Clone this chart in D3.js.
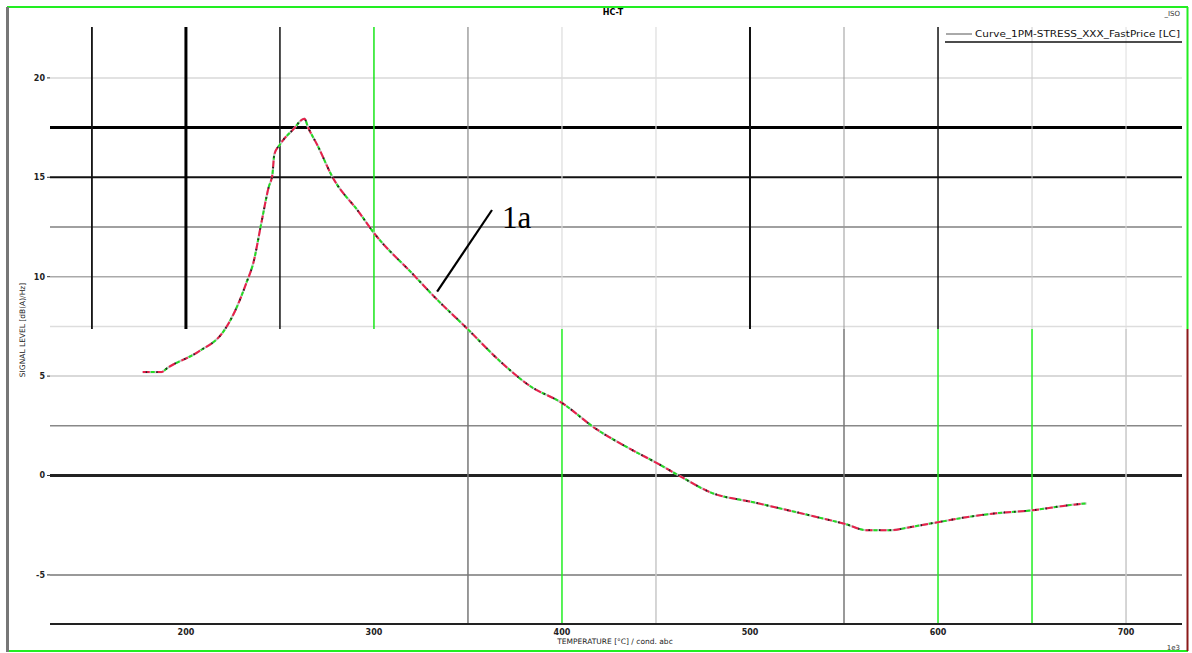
<!DOCTYPE html>
<html>
<head>
<meta charset="utf-8">
<script src="https://cdn.jsdelivr.net/npm/d3@7"></script>
<style>
  body { margin: 0; background: #fff; }
  svg { display: block; font-family: "DejaVu Sans", sans-serif; }
</style>
</head>
<body>
<svg id="chart"></svg>
<script>
// curve
const curveX = [177, 187, 190, 207, 220, 226, 232, 236, 240, 244, 246, 247, 250, 257, 263, 265, 270, 278, 292, 300, 321, 332, 350, 367, 383, 400, 418, 436, 450, 464, 479, 502, 536, 551, 562, 575, 585, 600, 615, 631, 650, 669, 679];
const curveY = [5.2, 5.2, 5.4, 6.25, 7.25, 8.25, 9.65, 10.75, 12.65, 14.5, 15.15, 16.15, 16.65, 17.4, 17.95, 17.5, 16.6, 15.0, 13.25, 12.2, 10.1, 9.0, 7.35, 5.75, 4.5, 3.65, 2.35, 1.35, 0.65, -0.1, -0.85, -1.35, -2.1, -2.45, -2.75, -2.75, -2.6, -2.35, -2.1, -1.9, -1.75, -1.5, -1.4];

const xTicks = [200, 300, 400, 500, 600, 700];
const xTickLabels = ['200', '300', '400', '500', '600', '700'];
const yTicks = [20, 15, 10, 5, 0, -5];
const yTickLabels = ['20', '15', '10', '5', '0', '-5'];
const xGrid = [150, 200, 250, 300, 350, 400, 450, 500, 550, 600, 650, 700];
const yGrid = [20, 17.5, 15, 12.5, 10, 7.5, 5, 2.5, 0, -5];

const title = 'HC-T';
const legendLabel = 'Curve_1PM-STRESS_XXX_FastPrice [LC]';
const xTitle = 'TEMPERATURE [°C] / cond. abc';
const yTitle = 'SIGNAL LEVEL [dB(A)/Hz]';
const annotation = '1a';

const W = 1192, H = 653;
const pL = 50, pR = 1183, pT = 27, pB = 624;
const seam = 329;

const svg = d3.select('#chart').attr('width', W).attr('height', H);

const x = d3.scaleLinear().domain([127.7, 730.3]).range([pL, pR]);
const y = d3.scaleLinear().domain([-7.47, 22.56]).range([pB, pT]);

// gridline looks: [top colour, top width, bottom colour, bottom width]
const vStyle = {
  150: ['#111', 1.8, null, 0], 200: ['#000', 3, null, 0], 250: ['#111', 1.5, null, 0],
  300: ['#19e619', 1.5, null, 0], 350: ['#888', 1.2, '#777', 1.5], 400: ['#ddd', 1.2, '#22ee22', 1.5],
  450: ['#ddd', 1.2, '#c8c8c8', 1.5], 500: ['#111', 2, null, 0], 550: ['#999', 1, '#777', 1.5],
  600: ['#111', 1.5, '#22ee22', 1.5], 650: ['#ccc', 1, '#22ee22', 1.5], 700: ['#ddd', 1, '#c8c8c8', 1.5]
};
const hStyle = {
  20: ['#d8d8d8', 1.5], 17.5: ['#000', 3], 15: ['#111', 2], 12.5: ['#808080', 1.5], 10: ['#aaa', 1.5],
  7.5: ['#ddd', 1.5], 5: ['#ccc', 1.5], 2.5: ['#888', 1.5], 0: ['#222', 3], '-5': ['#777', 1.5]
};

const grid = svg.append('g');
grid.selectAll('line.h').data(yGrid).enter().append('line').attr('class', 'h')
  .attr('x1', pL).attr('x2', pR - 1).attr('y1', d => y(d)).attr('y2', d => y(d))
  .attr('stroke', d => hStyle[d][0]).attr('stroke-width', d => hStyle[d][1]);

grid.selectAll('line.vt').data(xGrid).enter().append('line').attr('class', 'vt')
  .attr('x1', d => x(d)).attr('x2', d => x(d)).attr('y1', pT).attr('y2', seam)
  .attr('stroke', d => vStyle[d][0]).attr('stroke-width', d => vStyle[d][1]);
grid.selectAll('line.vb').data(xGrid.filter(d => vStyle[d][2])).enter().append('line').attr('class', 'vb')
  .attr('x1', d => x(d)).attr('x2', d => x(d)).attr('y1', seam).attr('y2', pB - 1)
  .attr('stroke', d => vStyle[d][2]).attr('stroke-width', d => vStyle[d][3]);

// bottom axis line
svg.append('line').attr('x1', pL).attr('x2', pR - 1).attr('y1', pB).attr('y2', pB)
  .attr('stroke', '#222').attr('stroke-width', 2);

// tick labels
svg.append('g').selectAll('text').data(xTicks).enter().append('text')
  .attr('x', d => x(d)).attr('y', pB + 11).attr('text-anchor', 'middle')
  .attr('font-size', 8).attr('font-weight', 'bold').attr('fill', '#222')
  .text((d, i) => xTickLabels[i]);
svg.append('g').selectAll('text').data(yTicks).enter().append('text')
  .attr('x', 45).attr('y', d => y(d) + 3).attr('text-anchor', 'end')
  .attr('font-size', 8).attr('font-weight', 'bold').attr('fill', '#222')
  .text((d, i) => yTickLabels[i]);
svg.append('g').selectAll('line').data(yTicks).enter().append('line')
  .attr('x1', 47).attr('x2', pL).attr('y1', d => y(d)).attr('y2', d => y(d))
  .attr('stroke', '#333').attr('stroke-width', 1);

// titles
svg.append('text').attr('x', 613).attr('y', 15).attr('text-anchor', 'middle')
  .attr('font-size', 8).attr('font-weight', 'bold').text(title);
svg.append('text').attr('x', 1180).attr('y', 16).attr('text-anchor', 'end')
  .attr('font-size', 7).attr('fill', '#333').text('_ISO');
svg.append('text').attr('x', 615).attr('y', 644).attr('text-anchor', 'middle')
  .attr('font-size', 7.5).attr('fill', '#222').text(xTitle);
svg.append('text').attr('transform', 'translate(25,330) rotate(-90)').attr('text-anchor', 'middle')
  .attr('font-size', 7.5).attr('fill', '#222').text(yTitle);
svg.append('text').attr('x', 1180).attr('y', 650).attr('text-anchor', 'end')
  .attr('font-size', 7).attr('fill', '#333').text('1e3');

// legend
const lg = svg.append('g');
lg.append('line').attr('x1', 946).attr('x2', 972).attr('y1', 34).attr('y2', 34).attr('stroke', '#555').attr('stroke-width', 1);
lg.append('text').attr('x', 975).attr('y', 37).attr('font-size', 8).attr('fill', '#111').text(legendLabel)
  .attr('textLength', 205).attr('lengthAdjust', 'spacingAndGlyphs');
lg.append('line').attr('x1', 945).attr('x2', 1182).attr('y1', 42).attr('y2', 42).attr('stroke', '#111').attr('stroke-width', 1.5);

// curve
const pts = curveX.map((d, i) => [d, curveY[i]]);
const line = d3.line().x(d => x(d[0])).y(d => y(d[1])).curve(d3.curveMonotoneX);
const cg = svg.append('g').attr('fill', 'none');
cg.append('path').attr('d', line(pts)).attr('stroke', '#c4c4c4').attr('stroke-width', 2.2);
cg.append('path').attr('d', line(pts)).attr('stroke', '#e8204a').attr('stroke-width', 2).attr('stroke-dasharray', '7,7');
cg.append('path').attr('d', line(pts)).attr('stroke', '#22dd22').attr('stroke-width', 2).attr('stroke-dasharray', '4,10').attr('stroke-dashoffset', -8);
cg.append('path').attr('d', line(pts)).attr('stroke', '#222').attr('stroke-width', 1.8).attr('stroke-dasharray', '1.5,9').attr('stroke-dashoffset', -3);

// annotation 1a
const ai = curveX.indexOf(332);
svg.append('line').attr('x1', x(curveX[ai]) + 3).attr('y1', y(curveY[ai]) - 5).attr('x2', 492).attr('y2', 210)
  .attr('stroke', '#000').attr('stroke-width', 2.2);
svg.append('text').attr('x', 502).attr('y', 228).attr('font-family', '"Liberation Serif", serif')
  .attr('font-size', 31).attr('fill', '#000').text(annotation);

// frame
const fr = svg.append('g');
fr.append('line').attr('x1', 7).attr('x2', 1188).attr('y1', 7).attr('y2', 7).attr('stroke', '#22ee22').attr('stroke-width', 2);
fr.append('line').attr('x1', 7).attr('x2', 1188).attr('y1', 651).attr('y2', 651).attr('stroke', '#22ee22').attr('stroke-width', 2);
fr.append('line').attr('x1', 7.5).attr('x2', 7.5).attr('y1', 7).attr('y2', 652).attr('stroke', '#777').attr('stroke-width', 3);
fr.append('line').attr('x1', 1187.5).attr('x2', 1187.5).attr('y1', 7).attr('y2', seam).attr('stroke', '#22ee22').attr('stroke-width', 2);
fr.append('line').attr('x1', 1187.5).attr('x2', 1187.5).attr('y1', seam).attr('y2', 651).attr('stroke', '#8b1a1a').attr('stroke-width', 2);
</script>
</body>
</html>
